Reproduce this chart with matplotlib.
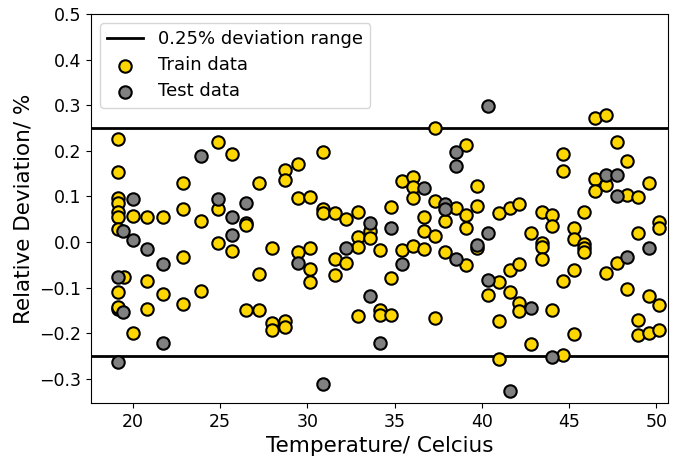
import matplotlib
matplotlib.use("Agg")
import matplotlib.pyplot as plt

# Train data (temperature, relative deviation %)
train_T = [19.15, 19.15, 19.15, 19.15, 19.15, 19.15, 19.15, 19.15, 19.15, 19.15,
           19.5, 19.98, 19.98, 20.8, 20.8, 20.8, 21.7, 21.7,
           22.85, 22.85, 22.85, 22.85, 23.9, 23.9, 24.9, 24.9, 24.9,
           25.7, 25.7, 26.5, 26.5, 26.5, 27.23, 27.23, 27.23,
           27.94, 27.94, 27.94, 28.7, 28.7, 28.7, 28.7, 29.43, 29.43, 29.43,
           30.13, 30.13, 30.13, 30.13, 30.9, 30.9, 30.9, 31.56, 31.56, 31.56,
           32.23, 32.23, 32.9, 32.9, 32.9, 32.9, 33.57, 33.57,
           34.17, 34.17, 34.17, 34.8, 34.8, 34.8, 35.42, 35.42,
           36.05, 36.05, 36.05, 36.05, 36.68, 36.68, 36.68,
           37.29, 37.29, 37.29, 37.29, 37.9, 37.9, 38.49,
           39.1, 39.1, 39.1, 39.1, 39.71, 39.71, 39.71, 40.34,
           40.97, 40.97, 40.97, 40.97, 41.58, 41.58, 41.58,
           42.15, 42.15, 42.15, 42.15, 42.82, 42.82,
           43.43, 43.43, 43.43, 43.43, 44.02, 44.02, 44.02,
           44.67, 44.67, 44.67, 44.67, 45.26, 45.26, 45.26, 45.26,
           45.87, 45.87, 45.87, 45.87, 46.5, 46.5, 46.5,
           47.11, 47.11, 47.11, 47.72, 47.72, 48.32, 48.32, 48.32,
           48.96, 48.96, 48.96, 48.96, 49.56, 49.56, 49.56,
           50.17, 50.17, 50.17, 50.17]
train_dev = [0.227, 0.154, 0.097, 0.085, 0.065, 0.056, 0.028, -0.109, -0.147, -0.142,
             -0.077, 0.057, -0.200, 0.056, -0.086, -0.147, 0.056, -0.114,
             0.129, 0.072, -0.032, -0.136, 0.047, -0.108, 0.220, 0.072, -0.001,
             0.192, -0.019, 0.042, 0.037, -0.148, 0.129, -0.069, -0.148,
             -0.012, -0.177, -0.192, 0.159, 0.137, -0.173, -0.186, 0.172, 0.096, -0.022,
             0.099, -0.012, -0.058, -0.087, 0.198, 0.072, 0.063, 0.064, -0.038, -0.072,
             0.050, -0.045, 0.066, 0.012, -0.010, -0.162, 0.024, 0.010,
             -0.149, -0.160, -0.018, 0.077, -0.078, -0.159, 0.134, -0.017,
             0.143, 0.121, 0.097, -0.008, 0.054, 0.024, -0.016,
             0.249, 0.090, 0.013, -0.166, 0.046, -0.022, 0.074,
             0.213, 0.059, 0.031, -0.050, 0.123, 0.080, -0.012, -0.116,
             0.064, -0.087, -0.173, -0.257, 0.074, -0.060, -0.109,
             0.083, -0.049, -0.134, -0.151, 0.019, -0.224,
             0.065, -0.001, -0.010, -0.036, 0.059, 0.035, -0.149,
             0.192, 0.156, -0.086, -0.248, 0.030, 0.006, -0.061, -0.202,
             0.066, -0.005, -0.013, -0.021, 0.271, 0.138, 0.112,
             0.279, 0.125, -0.067, 0.219, -0.045, 0.178, 0.103, -0.102,
             0.099, 0.019, -0.171, -0.203, 0.130, -0.118, -0.198,
             0.045, 0.031, -0.138, -0.193]

# Test data
test_T = [19.15, 19.15, 19.45, 19.45, 19.98, 19.98, 20.8, 21.7, 21.7,
          23.9, 24.9, 25.7, 25.7, 26.5, 29.43, 30.9, 32.23, 33.57, 33.57,
          34.14, 34.8, 35.42, 36.68, 37.9, 37.9, 38.49, 38.49, 38.49,
          39.71, 40.34, 40.34, 40.34, 41.58, 42.82, 44.02,
          47.11, 47.72, 47.72, 48.32, 49.6]
test_dev = [-0.076, -0.262, 0.024, -0.153, 0.094, 0.004, -0.016, -0.047, -0.221,
            0.189, 0.094, 0.056, 0.015, 0.086, -0.045, -0.310, -0.012, 0.042, -0.118,
            -0.222, 0.030, -0.048, 0.118, 0.083, 0.072, 0.198, 0.167, -0.036,
            -0.007, 0.299, 0.019, -0.082, -0.327, -0.144, -0.251,
            0.147, 0.147, 0.101, -0.032, -0.013]

band = 0.25
band_label = "0.25% deviation range"
xticks = [20, 25, 30, 35, 40, 45, 50]
yticks = [-0.3, -0.2, -0.1, 0.0, 0.1, 0.2, 0.3, 0.4, 0.5]

fig = plt.figure(figsize=(6.8, 4.63), dpi=100)
ax = fig.add_axes([0.134, 0.130, 0.848, 0.840])

ax.axhline(band, color="black", lw=2, label=band_label, zorder=1)
ax.axhline(-band, color="black", lw=2, zorder=1)
ax.scatter(train_T, train_dev, s=80, c="#FFD700", edgecolors="black",
           linewidths=1.5, label="Train data", zorder=2)
ax.scatter(test_T, test_dev, s=80, c="#808080", edgecolors="black",
           linewidths=1.5, label="Test data", zorder=3)

ax.set_xlim(17.6, 50.65)
ax.set_ylim(-0.352, 0.5)
ax.set_xticks(xticks)
ax.set_yticks(yticks)
ax.tick_params(labelsize=12.5)
ax.set_xlabel("Temperature/ Celcius", fontsize=15.5)
ax.set_ylabel("Relative Deviation/ %", fontsize=15.5)
ax.legend(loc="upper left", fontsize=13, labelspacing=0.45)

fig.savefig("out.png", dpi=100)
